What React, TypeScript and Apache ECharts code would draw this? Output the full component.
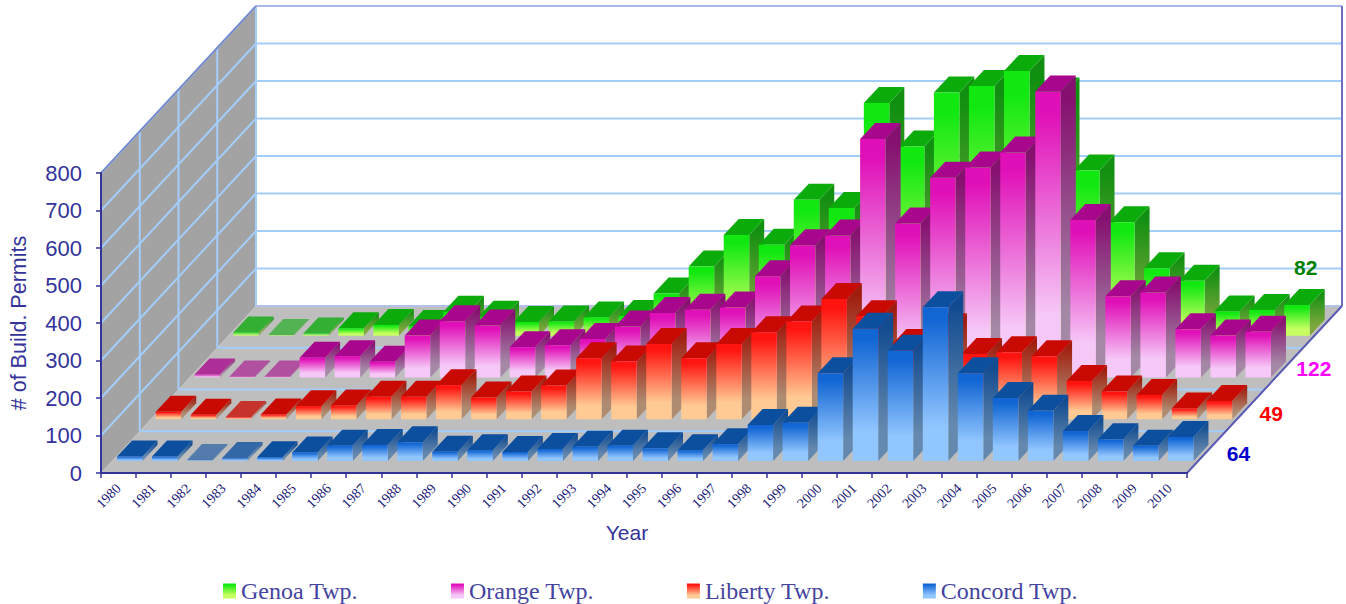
import React, { useEffect, useRef } from "react";
import * as echarts from "echarts";

const years = ["1980","1981","1982","1983","1984","1985","1986","1987","1988","1989","1990","1991","1992","1993","1994","1995","1996","1997","1998","1999","2000","2001","2002","2003","2004","2005","2006","2007","2008","2009","2010"];
const genoa = [9,2,6,20,29,26,64,51,37,38,49,53,113,185,269,243,363,341,621,505,649,666,706,646,441,303,180,147,65,69,82];
const orange = [8,3,3,53,57,42,112,150,139,81,86,103,136,172,181,187,270,353,379,636,411,533,560,600,763,420,217,227,129,112,122];
const liberty = [20,12,6,13,35,37,60,60,91,58,74,90,163,154,201,163,201,232,261,321,275,198,240,174,179,168,102,74,65,29,49];
const concord = [12,12,3,8,10,23,41,43,50,25,29,24,32,38,41,34,29,45,96,102,234,353,294,410,234,168,134,80,58,41,64];
const yTicks = [0,100,200,300,400,500,600,700,800];

const AXIS = "#333399";
const GRID_LINE = "#a3cdfb";
const WALL_DX = 155;
const WALL_DY = 167;
const ROW_DX = WALL_DX / 4;
const ROW_DY = WALL_DY / 4;
const BAR_W = 25.5;
const BAR_DX = 15;
const BAR_DY = 16;
const BAR_PAD_X = 16;
const BAR_PAD_Y = 12;

const grad = (a: string, b: string) =>
  new echarts.graphic.LinearGradient(0, 0, 0, 1, [
    { offset: 0, color: a },
    { offset: 0.08, color: a },
    { offset: 0.78, color: b },
    { offset: 1, color: b },
  ]);

const rows = [
  { name: "Genoa Twp.", data: genoa, row: 3, front: ["#10e810", "#c8ff60"], side: ["#108f10", "#7ea83e"], top: "#0cab0c", text: "#008000", tx: -17, ty: -59 },
  { name: "Orange Twp.", data: orange, row: 2, front: ["#e010b8", "#f6c8f7"], side: ["#861070", "#a488a6"], top: "#a8068c", text: "#ff00ff", tx: 30, ty: 0 },
  { name: "Liberty Twp.", data: liberty, row: 1, front: ["#ff1410", "#ffca94"], side: ["#a01c0c", "#ae8c72"], top: "#c80a02", text: "#ff0000", tx: 26, ty: 3 },
  { name: "Concord Twp.", data: concord, row: 0, front: ["#1266d4", "#92c6ff"], side: ["#104a90", "#6488ae"], top: "#0c4f9f", text: "#0000cc", tx: 32, ty: 1 },
];

function renderScene(params: any, api: any) {
  const cs = params.coordSys;
  const x0 = cs.x;
  const x1 = cs.x + cs.width;
  const y0 = api.coord([0, 0])[1];
  const yTop = api.coord([0, 800])[1];
  const poly = (points: number[][], fill: string) => ({ type: "polygon", silent: true, shape: { points }, style: { fill } });
  const line = (a: number[], b: number[], stroke = GRID_LINE, lineWidth = 2) => ({
    type: "line",
    silent: true,
    shape: { x1: a[0], y1: a[1], x2: b[0], y2: b[1] },
    style: { stroke, lineWidth },
  });
  const children: any[] = [];
  children.push(poly([[x0 + WALL_DX, yTop - WALL_DY], [x1 + WALL_DX, yTop - WALL_DY], [x1 + WALL_DX, y0 - WALL_DY], [x0 + WALL_DX, y0 - WALL_DY]], "#ffffff"));
  children.push(poly([[x0, yTop], [x0 + WALL_DX, yTop - WALL_DY], [x0 + WALL_DX, y0 - WALL_DY], [x0, y0]], "#a3a3a3"));
  children.push(poly([[x0, y0], [x1, y0], [x1 + WALL_DX, y0 - WALL_DY], [x0 + WALL_DX, y0 - WALL_DY]], "#bebebe"));
  yTicks.forEach((t) => {
    const y = api.coord([0, t])[1];
    if (t > 0) {
      children.push(line([x0, y], [x0 + WALL_DX, y - WALL_DY]));
      children.push(line([x0 + WALL_DX, y - WALL_DY], [x1 + WALL_DX, y - WALL_DY]));
    }
  });
  [1, 2, 3].forEach((r) => {
    const dx = ROW_DX * r;
    const dy = ROW_DY * r;
    children.push(line([x0 + dx, yTop - dy], [x0 + dx, y0 - dy]));
    children.push(line([x0 + dx, y0 - dy], [x1 + dx, y0 - dy]));
  });
  children.push(line([x0 + WALL_DX, yTop - WALL_DY], [x0 + WALL_DX, y0 - WALL_DY]));
  children.push(line([x0 + WALL_DX, y0 - WALL_DY], [x1 + WALL_DX, y0 - WALL_DY], "#b4c2ea", 2));
  children.push(line([x0 + WALL_DX, yTop - WALL_DY], [x1 + WALL_DX, yTop - WALL_DY], "#a8b8ea", 2));
  children.push(line([x0, yTop], [x0 + WALL_DX, yTop - WALL_DY], "#7482c8", 1.6));
  children.push(line([x1, y0], [x1 + WALL_DX, y0 - WALL_DY], "#5a5ab4", 2));
  children.push(line([x1 + WALL_DX, y0 - WALL_DY], [x1 + WALL_DX, yTop - WALL_DY], "#6e6ec0", 2));
  return { type: "group", children };
}

function makeRenderBar(cfg: (typeof rows)[number]) {
  const front = grad(cfg.front[0], cfg.front[1]);
  const side = grad(cfg.side[0], cfg.side[1]);
  return (params: any, api: any) => {
    const i = api.value(0);
    const v = api.value(1);
    const cs = params.coordSys;
    const band = api.size([1, 0])[0];
    const center = api.coord([i, 0])[0];
    const base = api.coord([i, 0])[1];
    const dx = ROW_DX * cfg.row;
    const dy = ROW_DY * cfg.row;
    const xl = center - band / 2 + BAR_PAD_X + dx;
    const xr = xl + BAR_W;
    const yb = base - BAR_PAD_Y - dy;
    const yt = api.coord([i, v])[1] - BAR_PAD_Y - dy;
    const opacity = v < 5 ? 0.6 : v < 10 ? 0.78 : 1;
    const children: any[] = [
      { type: "polygon", silent: true, shape: { points: [[xr, yb], [xr + BAR_DX, yb - BAR_DY], [xr + BAR_DX, yt - BAR_DY], [xr, yt]] }, style: { fill: side, opacity } },
      { type: "polygon", silent: true, shape: { points: [[xl, yt], [xr, yt], [xr + BAR_DX, yt - BAR_DY], [xl + BAR_DX, yt - BAR_DY]] }, style: { fill: cfg.top, opacity } },
      { type: "polygon", silent: true, shape: { points: [[xl, yb], [xr, yb], [xr, yt], [xl, yt]] }, style: { fill: front, opacity } },
    ];
    if (params.dataIndex === cfg.data.length - 1) {
      const x1 = cs.x + cs.width;
      const mx = x1 + dx + ROW_DX / 2;
      const my = base - dy - ROW_DY / 2;
      children.push({
        type: "text",
        silent: true,
        x: mx + cfg.tx,
        y: my + cfg.ty,
        style: {
          text: String(v),
          fill: cfg.text,
          font: 'bold 21px "Liberation Sans", Arial, sans-serif',
          align: "center",
          verticalAlign: "middle",
        },
      });
    }
    return { type: "group", children };
  };
}

export default function App() {
  const ref = useRef<HTMLDivElement>(null);
  useEffect(() => {
    if (!ref.current) return;
    const chart = echarts.init(ref.current, undefined, { renderer: "svg" });
    chart.setOption({
      animation: false,
      backgroundColor: "#ffffff",
      grid: { left: 98.5, top: 173, width: 1088.5, height: 300, containLabel: false },
      xAxis: {
        type: "category",
        data: years,
        z: 6,
        axisLine: { lineStyle: { color: AXIS, width: 2 } },
        axisTick: { show: true, length: 5, lineStyle: { color: AXIS, width: 1.5 }, interval: 0 },
        axisLabel: {
          interval: 0,
          rotate: 45,
          margin: 13,
          color: "#1c1c78",
          fontSize: 14,
          fontFamily: '"Liberation Serif", serif',
        },
        splitLine: { show: false },
      },
      yAxis: {
        type: "value",
        min: 0,
        max: 800,
        interval: 100,
        z: 6,
        name: "# of Build. Permits",
        nameLocation: "middle",
        nameRotate: 90,
        nameGap: 71,
        nameTextStyle: { color: AXIS, fontSize: 21.5, fontFamily: '"Liberation Sans", Arial, sans-serif' },
        axisLine: { show: true, lineStyle: { color: AXIS, width: 2 } },
        axisTick: { show: true, length: 5, lineStyle: { color: AXIS, width: 1.5 } },
        axisLabel: { color: AXIS, fontSize: 22, margin: 19, fontFamily: '"Liberation Sans", Arial, sans-serif' },
        splitLine: { show: false },
      },
      legend: {
        left: 218,
        top: 574,
        orient: "horizontal",
        selectedMode: false,
        itemWidth: 13,
        itemHeight: 15,
        itemGap: 93,
        textStyle: { color: "#44449f", fontSize: 24, fontFamily: '"Liberation Serif", serif' },
        data: rows.map((r) => ({ name: r.name, icon: "rect", itemStyle: { color: grad(r.front[0], r.front[1]) } })),
      },
      graphic: [
        {
          type: "text",
          x: 627,
          y: 532,
          silent: true,
          style: {
            text: "Year",
            fill: AXIS,
            font: '21px "Liberation Sans", Arial, sans-serif',
            align: "center",
            verticalAlign: "middle",
          },
        },
      ],
      series: [
        { type: "custom", name: "scene", silent: true, z: 1, coordinateSystem: "cartesian2d", data: [[0, 0]], encode: { x: 0, y: 1 }, renderItem: renderScene },
        ...rows.map((r) => ({
          type: "custom",
          name: r.name,
          silent: true,
          z: 2,
          coordinateSystem: "cartesian2d",
          clip: false,
          itemStyle: { color: r.front[0] },
          encode: { x: 0, y: 1 },
          data: r.data.map((v, i) => [i, v]),
          renderItem: makeRenderBar(r),
        })),
      ],
    });
    return () => chart.dispose();
  }, []);
  return <div ref={ref} style={{ position: "absolute", left: 0, top: 0, width: 1346, height: 604 }} />;
}
